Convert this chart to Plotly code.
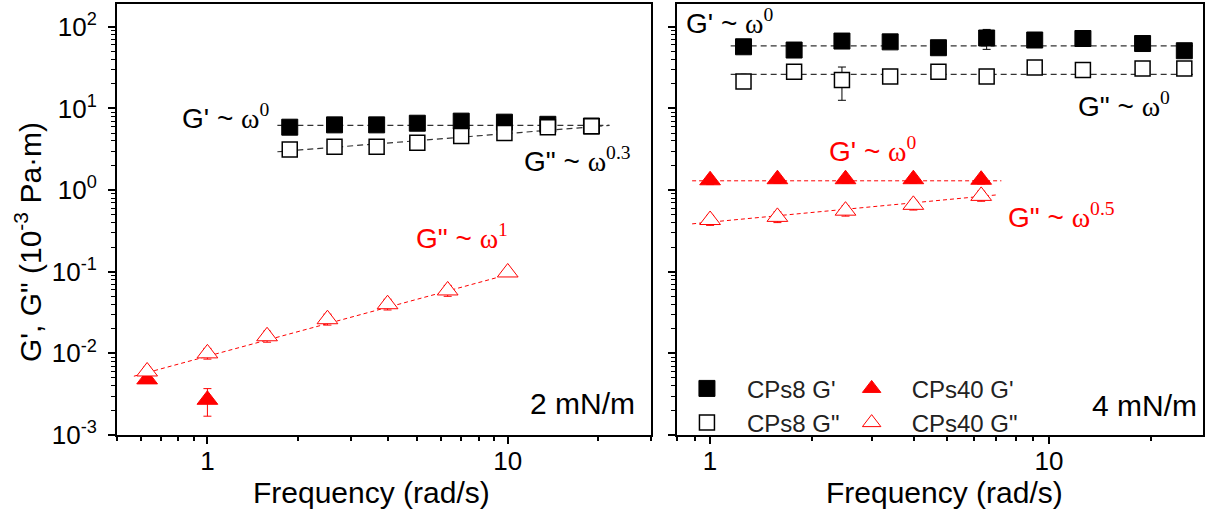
import plotly.graph_objects as go

# ---------------- data ----------------
# Left panel (2 mN/m)
x8_L = [1.88, 2.65, 3.66, 5.0, 7.0, 9.75, 13.6, 19.0]
G1_8_L = [5.9, 6.3, 6.3, 6.6, 7.0, 6.8, 6.4, 6.1]
G1_8_L_err = [0.2, 0.2, 0.6, 0.4, 0.3, 0.5, 0.5, 0.3]
G2_8_L = [3.15, 3.4, 3.4, 3.8, 4.6, 5.0, 5.9, 6.05]
G2_8_L_err = [0.2, 0.3, 0.4, 0.4, 0.4, 0.5, 0.6, 0.5]

x40_L = [0.63, 1.0, 1.58, 2.51, 3.98, 6.31, 10.0]
G2_40_L = [0.0060, 0.0100, 0.0162, 0.0262, 0.0400, 0.0590, 0.098]
G2_40_L_err = [0.0008, 0.0015, 0.0025, 0.004, 0.006, 0.009, 0.004]
x40_L_G1 = [0.63, 1.0]
G1_40_L = [0.0048, 0.0027]
G1_40_L_err = [0.0004, 0.001]

# Right panel (4 mN/m)
x8_R = [1.255, 1.77, 2.45, 3.40, 4.72, 6.55, 9.08, 12.6, 18.9, 25.1]
G1_8_R = [57, 52, 67, 65.5, 55.5, 73, 69, 72, 62.5, 51]
G1_8_R_err = [3, 3, 4, 4, 4, 20, 4, 4, 3, 3]
G2_8_R = [21.4, 28.2, 22.4, 24.6, 28.2, 24.6, 31.7, 29.6, 31.0, 31.0]
G2_8_R_err = [1.5, 3, 9.8, 2.5, 2, 3, 3, 3, 2, 1.5]

x40_R = [1.0, 1.58, 2.51, 3.98, 6.31]
G1_40_R = [1.32, 1.36, 1.36, 1.36, 1.34]
G1_40_R_err = [0.15, 0.15, 0.15, 0.15, 0.15]
G2_40_R = [0.43, 0.47, 0.56, 0.66, 0.85]
G2_40_R_err = [0.06, 0.07, 0.08, 0.09, 0.12]

# power-law fit lines (end points)
fitL_G1_x, fitL_G1_y = [1.71, 21.8], [6.2, 6.2]
fitL_G2_x, fitL_G2_y = [1.71, 21.8], [2.95, 6.2]
fitL_40_x, fitL_40_y = [0.569, 9.24], [0.00525, 0.0851]
fitR_G1_x, fitR_G1_y = [1.15, 26.6], [58.6, 58.6]
fitR_G2_x, fitR_G2_y = [1.15, 26.6], [26.2, 26.2]
fitR_40G1_x, fitR_40G1_y = [0.885, 7.24], [1.30, 1.30]
fitR_40G2_x, fitR_40G2_y = [0.885, 7.08], [0.386, 0.877]

# ticks
x_major = [1, 10]
x_major_text = ["1", "10"]
xL_minor = [0.5, 0.6, 0.7, 0.8, 0.9, 2, 3, 4, 5, 6, 7, 8, 9, 20, 30]
xR_minor = [0.8, 0.9, 2, 3, 4, 5, 6, 7, 8, 9, 20]
y_major = [1e-3, 1e-2, 1e-1, 1, 10, 100]
y_major_text = ["10<sup>-3</sup>", "10<sup>-2</sup>", "10<sup>-1</sup>",
                "10<sup>0</sup>", "10<sup>1</sup>", "10<sup>2</sup>"]
y_minor = [m * d for d in [1e-3, 1e-2, 1e-1, 1, 10, 100] for m in range(2, 10)]

# ---------------- styling ----------------
FONT = "Arial, Liberation Sans, sans-serif"
SERIF = "Times New Roman, Liberation Serif, serif"
BLACK = "#000000"
RED = "#ff0000"
W, H = 1207, 521
ML, MR, MT, MB = 117, 2, 2, 86
PW, PH = W - ML - MR, H - MT - MB


def px(x):
    return (x - ML) / PW


def py(y):
    return (H - MB - y) / PH


fig = go.Figure()


def err(arr, color):
    return dict(type="data", array=arr, color=color, thickness=1, width=4)


def fit(x, y, color, dash, xa, ya, width=1.2):
    fig.add_trace(go.Scatter(x=x, y=y, mode="lines", showlegend=False,
                             line=dict(color=color, width=width, dash=dash),
                             xaxis=xa, yaxis=ya, hoverinfo="skip"))


# fit lines
fit(fitL_G1_x, fitL_G1_y, "#333333", "6px,4px", "x", "y")
fit(fitL_G2_x, fitL_G2_y, "#333333", "6px,4px", "x", "y")
fit(fitL_40_x, fitL_40_y, RED, "4px,3px", "x", "y", 1)
fit(fitR_G1_x, fitR_G1_y, "#333333", "6px,4px", "x2", "y2")
fit(fitR_G2_x, fitR_G2_y, "#333333", "6px,4px", "x2", "y2")
fit(fitR_40G1_x, fitR_40G1_y, RED, "4px,3px", "x2", "y2", 1)
fit(fitR_40G2_x, fitR_40G2_y, RED, "4px,3px", "x2", "y2", 1)

NB = "\u00a0\u00a0\u00a0"
sq_f = dict(symbol="square", size=16, color=BLACK, line=dict(color=BLACK, width=1))
sq_o = dict(symbol="square", size=15, color="white", line=dict(color=BLACK, width=1.5))
tr_f = dict(symbol="triangle-up", size=18, color=RED, line=dict(color=RED, width=1))
tr_o = dict(symbol="triangle-up", size=18, color="white", line=dict(color=RED, width=1))

# left panel
fig.add_trace(go.Scatter(x=x8_L, y=G1_8_L, mode="markers", marker=sq_f,
                         error_y=err(G1_8_L_err, BLACK), showlegend=False,
                         xaxis="x", yaxis="y"))
fig.add_trace(go.Scatter(x=x8_L, y=G2_8_L, mode="markers", marker=sq_o,
                         error_y=err(G2_8_L_err, BLACK), showlegend=False,
                         xaxis="x", yaxis="y"))
fig.add_trace(go.Scatter(x=x40_L_G1, y=G1_40_L, mode="markers", marker=tr_f,
                         error_y=err(G1_40_L_err, RED), showlegend=False,
                         xaxis="x", yaxis="y"))
fig.add_trace(go.Scatter(x=x40_L, y=G2_40_L, mode="markers", marker=tr_o,
                         error_y=err(G2_40_L_err, RED), showlegend=False,
                         xaxis="x", yaxis="y"))

# right panel (with legends)
fig.add_trace(go.Scatter(x=x8_R, y=G1_8_R, mode="markers", marker=sq_f,
                         error_y=err(G1_8_R_err, BLACK), name=NB + "CPs8 G'",
                         legend="legend", xaxis="x2", yaxis="y2"))
fig.add_trace(go.Scatter(x=x8_R, y=G2_8_R, mode="markers", marker=sq_o,
                         error_y=err(G2_8_R_err, BLACK), name=NB + "CPs8 G\"",
                         legend="legend", xaxis="x2", yaxis="y2"))
fig.add_trace(go.Scatter(x=x40_R, y=G1_40_R, mode="markers", marker=tr_f,
                         error_y=err(G1_40_R_err, RED), name=NB + "CPs40 G'",
                         legend="legend2", xaxis="x2", yaxis="y2"))
fig.add_trace(go.Scatter(x=x40_R, y=G2_40_R, mode="markers", marker=tr_o,
                         error_y=err(G2_40_R_err, RED), name=NB + "CPs40 G\"",
                         legend="legend2", xaxis="x2", yaxis="y2"))

axis_common = dict(type="log", showline=True, linewidth=2, linecolor=BLACK,
                   mirror=True, showgrid=False, zeroline=False,
                   ticks="outside", ticklen=7, tickwidth=1.5, tickcolor=BLACK,
                   tickfont=dict(family=FONT, size=26, color=BLACK))

fig.update_layout(
    width=W, height=H,
    margin=dict(l=ML, r=MR, t=MT, b=MB),
    paper_bgcolor="white", plot_bgcolor="white",
    font=dict(family=FONT, color=BLACK),
    xaxis=dict(axis_common, domain=[0, px(652)], range=[-0.30103, 1.4771],
               tickvals=x_major, ticktext=x_major_text, anchor="y",
               ticklabelstandoff=-5,
               minor=dict(tickvals=xL_minor, ticks="outside", ticklen=4,
                          tickwidth=1.5, tickcolor=BLACK, showgrid=False)),
    xaxis2=dict(axis_common, domain=[px(678.3), 1], range=[-0.0969, 1.4548],
                tickvals=x_major, ticktext=x_major_text, anchor="y2",
                ticklabelstandoff=-5,
                minor=dict(tickvals=xR_minor, ticks="outside", ticklen=4,
                           tickwidth=1.5, tickcolor=BLACK, showgrid=False)),
    yaxis=dict(axis_common, domain=[0, 1], range=[-3, 2.28], anchor="x",
               tickvals=y_major, ticktext=y_major_text, ticklabelstandoff=6,
               minor=dict(tickvals=y_minor, ticks="outside", ticklen=4,
                          tickwidth=1, tickcolor=BLACK, showgrid=False)),
    yaxis2=dict(axis_common, domain=[0, 1], range=[-3, 2.28], anchor="x2",
                tickvals=y_major, showticklabels=False,
                minor=dict(tickvals=y_minor, ticks="outside", ticklen=4,
                           tickwidth=1, tickcolor=BLACK, showgrid=False)),
    legend=dict(x=px(688), y=py(366), xanchor="left", yanchor="top",
                bgcolor="rgba(0,0,0,0)", borderwidth=0, tracegroupgap=0,
                font=dict(family=FONT, size=24, color="#222222")),
    legend2=dict(x=px(853), y=py(366), xanchor="left", yanchor="top",
                 bgcolor="rgba(0,0,0,0)", borderwidth=0, tracegroupgap=0,
                 font=dict(family=FONT, size=24, color="#222222")),
)


def omega(sup):
    return ('<span style="font-family:' + SERIF + '">\u03c9<sup>' + sup +
            '</sup></span>')


ann = [
    # text, left/right x px, center y px, color, anchor, size
    ("G' ~ " + omega("0"), 180, 115, BLACK, "left", 28),
    ("G\" ~ " + omega("0.3"), 523, 158, BLACK, "left", 28),
    ("G\" ~ " + omega("1"), 415, 236, RED, "left", 28),
    ("2 mN/m", 638, 403, BLACK, "right", 30),
    ("G' ~ " + omega("0"), 685, 20, BLACK, "left", 28),
    ("G\" ~ " + omega("0"), 1078, 103, BLACK, "left", 28),
    ("G' ~ " + omega("0"), 828, 148, RED, "left", 28),
    ("G\" ~ " + omega("0.5"), 1008, 214, RED, "left", 28),
    ("4 mN/m", 1201, 405, BLACK, "right", 30),
    ("Frequency (rad/s)", 372, 493, BLACK, "center", 30),
    ("Frequency (rad/s)", 946, 493, BLACK, "center", 30),
]
for t, x, y, c, xa, s in ann:
    fig.add_annotation(text=t, x=px(x), y=py(y), xref="paper", yref="paper",
                       xanchor=xa, yanchor="middle", showarrow=False,
                       font=dict(family=FONT, size=s, color=c))

# y-axis title
fig.add_annotation(text="G', G\" (10<sup>-3</sup> Pa\u00b7m)", x=px(28), y=py(241),
                   xref="paper", yref="paper", xanchor="center", yanchor="middle",
                   textangle=-90, showarrow=False,
                   font=dict(family=FONT, size=30, color=BLACK))

fig.write_html("out.html")
